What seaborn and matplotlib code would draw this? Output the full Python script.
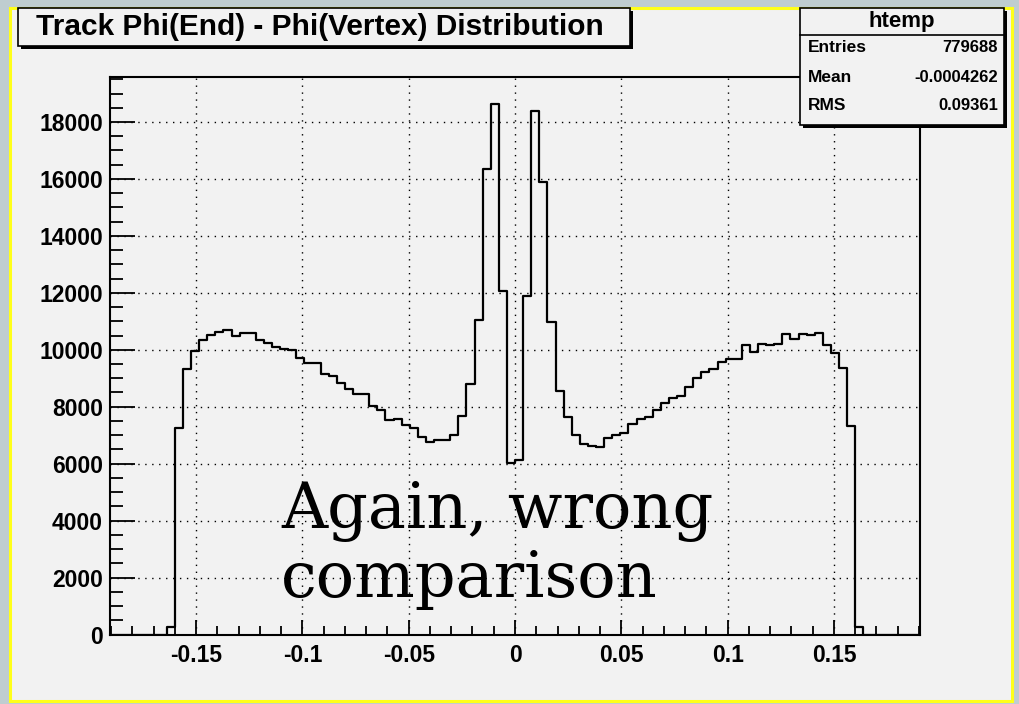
import matplotlib
matplotlib.use("Agg")
import matplotlib.pyplot as plt
from matplotlib import font_manager
from matplotlib.patches import Rectangle
from matplotlib.lines import Line2D
from matplotlib.transforms import Affine2D
from matplotlib.ticker import FixedLocator, FixedFormatter, MultipleLocator
import numpy as np
import pandas as pd
import seaborn as sns

# ---------------- data ----------------
title = "Track Phi(End) - Phi(Vertex) Distribution"
hist_name = "htemp"
stat_labels = ["Entries", "Mean", "RMS"]
stat_values = ["779688", "-0.0004262", "0.09361"]
overlay_lines = ["Again, wrong", "comparison"]

x_low, x_high, n_bins = -0.1905, 0.1905, 100
bin_counts = [0, 0, 0, 0, 0, 0, 0,
              250, 7247, 9330, 9953, 10329, 10518, 10624, 10694, 10482, 10576,
              10576, 10341, 10224, 10082, 10024, 9988, 9706, 9529, 9529, 9153,
              9071, 8835, 8624, 8459, 8459, 8012, 7894, 7518, 7565, 7370,
              7240, 6930, 6750, 6830, 6830, 7000, 7680, 8800, 11059, 16340,
              18646, 12054, 6023, 6117, 11890, 18389, 15895, 10977, 8560, 7625,
              7000, 6675, 6610, 6576, 6894, 7000, 7071, 7376, 7576, 7635,
              7894, 8129, 8306, 8365, 8694, 9012, 9212, 9329, 9576, 9682,
              9682, 10153, 9929, 10200, 10153, 10200, 10565, 10388, 10565, 10518,
              10576, 10153, 9882, 9376, 7318, 250,
              0, 0, 0, 0, 0, 0, 0]
x_tick_values = [-0.15, -0.1, -0.05, 0.0, 0.05, 0.1, 0.15]
x_tick_labels = ["-0.15", "-0.1", "-0.05", "0", "0.05", "0.1", "0.15"]
y_tick_values = [0, 2000, 4000, 6000, 8000, 10000, 12000, 14000, 16000, 18000]
y_tick_labels = [str(v) for v in y_tick_values]
y_top = 19580

# ---------------- figure ----------------
W, H = 1019, 704
fig = plt.figure(figsize=(W / 100, H / 100), dpi=100)
fig.patch.set_facecolor("#bfcdd0")
px = Affine2D().scale(1 / W, -1 / H).translate(0, 1) + fig.transFigure

sans = "Liberation Sans"

canvas_bg = "#f2f2f2"
fig.add_artist(Rectangle((10, 8), 1002, 693, transform=px, facecolor=canvas_bg,
                         edgecolor="#ffff1a", linewidth=2.2, zorder=0))

ax = fig.add_axes([110 / W, 1 - 634.5 / H, 810 / W, (634.5 - 77) / H])
ax.set_facecolor(canvas_bg)

centers = x_low + (np.arange(n_bins) + 0.5) * (x_high - x_low) / n_bins
df = pd.DataFrame({"phi": centers, "count": bin_counts})
sns.histplot(data=df, x="phi", weights="count", bins=n_bins, binrange=(x_low, x_high),
             element="step", fill=False, color="black", linewidth=1.6, ax=ax, zorder=3)

ax.set_xlim(x_low, x_high)
ax.set_ylim(0, y_top)
ax.set_xlabel("")
ax.set_ylabel("")
for s in ax.spines.values():
    s.set_linewidth(1.5)
    s.set_color("black")

ax.xaxis.set_major_locator(FixedLocator(x_tick_values))
ax.xaxis.set_major_formatter(FixedFormatter(x_tick_labels))
ax.xaxis.set_minor_locator(MultipleLocator(0.01))
ax.yaxis.set_major_locator(FixedLocator(y_tick_values))
ax.yaxis.set_major_formatter(FixedFormatter(y_tick_labels))
ax.yaxis.set_minor_locator(MultipleLocator(500))
ax.tick_params(which="both", direction="in", top=False, right=False, width=1.3, color="black")
ax.tick_params(axis="x", which="major", length=11, pad=7)
ax.tick_params(axis="x", which="minor", length=6.5)
ax.tick_params(axis="y", which="major", length=18, pad=5)
ax.tick_params(axis="y", which="minor", length=9.5)
for lab in ax.get_xticklabels() + ax.get_yticklabels():
    lab.set_fontfamily(sans)
    lab.set_fontweight("bold")
    lab.set_fontsize(16.5)

ax.grid(True, which="major", color="black", linestyle=(0, (1, 4)), linewidth=1.0)
ax.set_axisbelow(True)

# ---------------- title box ----------------
fig.add_artist(Rectangle((21, 11), 612, 38, transform=px, facecolor="black",
                         edgecolor="black", linewidth=0, zorder=4))
fig.add_artist(Rectangle((18, 8), 612, 38, transform=px, facecolor=canvas_bg,
                         edgecolor="black", linewidth=1.2, zorder=5))
fig.text(320, 27, title, transform=px, ha="center", va="center", fontsize=21.5,
         fontfamily=sans, fontweight="bold", zorder=6)

# ---------------- stats box ----------------
bx0, by0, bw, bh = 800, 8, 204, 117
fig.add_artist(Rectangle((bx0 + 3, by0 + 3), bw, bh, transform=px, facecolor="black",
                         linewidth=0, zorder=4))
fig.add_artist(Rectangle((bx0, by0), bw, bh, transform=px, facecolor=canvas_bg,
                         edgecolor="black", linewidth=1.2, zorder=5))
fig.add_artist(Line2D([bx0, bx0 + bw], [35, 35], transform=px, color="black",
                      linewidth=1.2, zorder=6))
fig.text(bx0 + bw / 2, 21, hist_name, transform=px, ha="center", va="center",
         fontsize=16, fontfamily=sans, fontweight="bold", zorder=6)
row_y = [48, 77, 106]
for lbl, val, yy in zip(stat_labels, stat_values, row_y):
    fig.text(bx0 + 8, yy, lbl, transform=px, ha="left", va="center", fontsize=12.5,
             fontfamily=sans, fontweight="bold", zorder=6)
    fig.text(bx0 + bw - 6, yy, val, transform=px, ha="right", va="center", fontsize=12,
             fontfamily=sans, fontweight="bold", zorder=6)

# ---------------- overlay note ----------------
fig.text(281, 528, overlay_lines[0], transform=px, ha="left", va="baseline",
         fontsize=46, fontfamily="DejaVu Serif", zorder=10)
fig.text(281, 597, overlay_lines[1], transform=px, ha="left", va="baseline",
         fontsize=46, fontfamily="DejaVu Serif", zorder=10)

fig.savefig("out.png", dpi=100, facecolor=fig.get_facecolor())
